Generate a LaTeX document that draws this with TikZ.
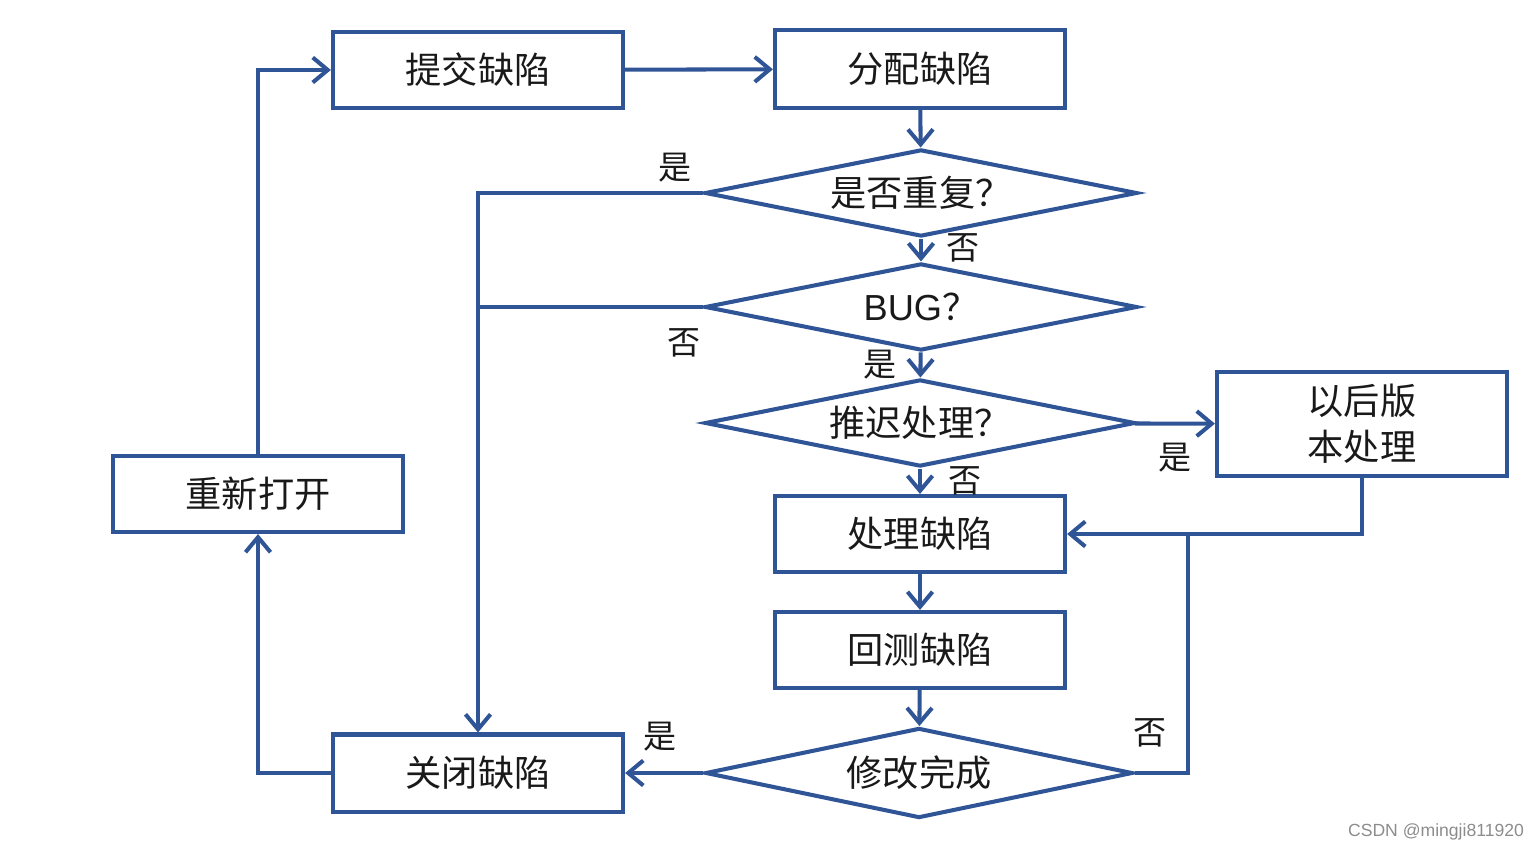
\documentclass[tikz,border=0pt]{standalone}
\usepackage{fontspec}
\setmainfont{Noto Sans CJK SC}
\newfontfamily\latinfont{Liberation Sans}
\usetikzlibrary{shapes.geometric, arrows.meta, positioning}
\definecolor{linecolor}{RGB}{47, 85, 151}
\definecolor{textcolor}{RGB}{25, 25, 25}
\definecolor{markcolor}{RGB}{140, 140, 140}
\tikzset{
    font=\fontsize{10.3}{13}\selectfont,
    block/.style = {
        rectangle, minimum width=2.9cm, minimum height=0.76cm, text centered,
        align=center, draw=linecolor, line width=1.15pt, fill=white, text=textcolor
    },
    decision/.style = {
        diamond, aspect=5, minimum width=4.32cm, minimum height=0.87cm, inner sep=0pt,
        text centered, draw=linecolor, line width=1.15pt, fill=white, text=textcolor
    },
    arrow/.style = {-{Straight Barb[length=1.5mm,width=2.5mm]}, line width=1.15pt, draw=linecolor},
    line/.style = {line width=1.15pt, draw=linecolor},
    answer/.style = {font=\fontsize{9.4}{11}\selectfont, text=textcolor, inner sep=0pt}
}
\begin{document}
\begin{tikzpicture}[x=0.01cm, y=-0.01cm]
\useasboundingbox (0,0) rectangle (1540,852);
% Nodes
\node[block] (submit) at (478,70) {提交缺陷};
\node[block, minimum height=0.78cm] (assign) at (920,69) {分配缺陷};
\node[decision] (dup) at (921,193) {是否重复？};
\node[decision] (bug) at (921,307) {{\latinfont BUG}？};
\node[decision, minimum width=4.3cm] (defer) at (920,423) {推迟处理？};
\node[block, minimum height=1.03cm] (later) at (1362,424) {以后版\\本处理};
\node[block] (handle) at (920,534) {处理缺陷};
\node[block] (retest) at (920,650) {回测缺陷};
\node[decision, minimum width=4.27cm, minimum height=0.9cm] (done) at (919,773) {修改完成};
\node[block, minimum height=0.77cm] (close) at (478,773) {关闭缺陷};
\node[block] (reopen) at (258,494) {重新打开};
% Arrows
\draw[arrow] (submit) -- (assign);
\draw[arrow] (assign) -- (dup);
\draw[arrow] (dup) -- (bug);
\draw[arrow] (bug) -- (defer);
\draw[arrow] (defer) -- (later);
\draw[arrow] (defer) -- (handle);
\draw[arrow] (handle) -- (retest);
\draw[arrow] (retest) -- (done);
\draw[arrow] (done) -- (close);
\draw[arrow] (dup.west) -| (close.north);
\draw[line] (bug.west) -- (bug.west -| close.north);
\draw[arrow] (later.south) |- (handle.east);
% Loop for "No"
\coordinate (join) at (1188,534);
\draw[line] (done.east) -| (join);
% Reopen loop
\draw[arrow] (close.west) -| (reopen.south);
\draw[arrow] (reopen.north) |- (submit.west);
% Labels
\node[answer] (dupyes) at (675,168) {是};
\node[answer] (dupno) at (963,248) {否};
\node[answer] (bugno) at (684,343) {否};
\node[answer] (bugyes) at (880,365) {是};
\node[answer] (deferyes) at (1175,458) {是};
\node[answer] (deferno) at (965,481) {否};
\node[answer] (doneno) at (1150,733) {否};
\node[answer] (doneyes) at (660,737) {是};
\node[text=markcolor, font=\latinfont\fontsize{5}{6}\selectfont] (mark) at (1436,832) {CSDN @mingji811920};
\end{tikzpicture}
\end{document}
